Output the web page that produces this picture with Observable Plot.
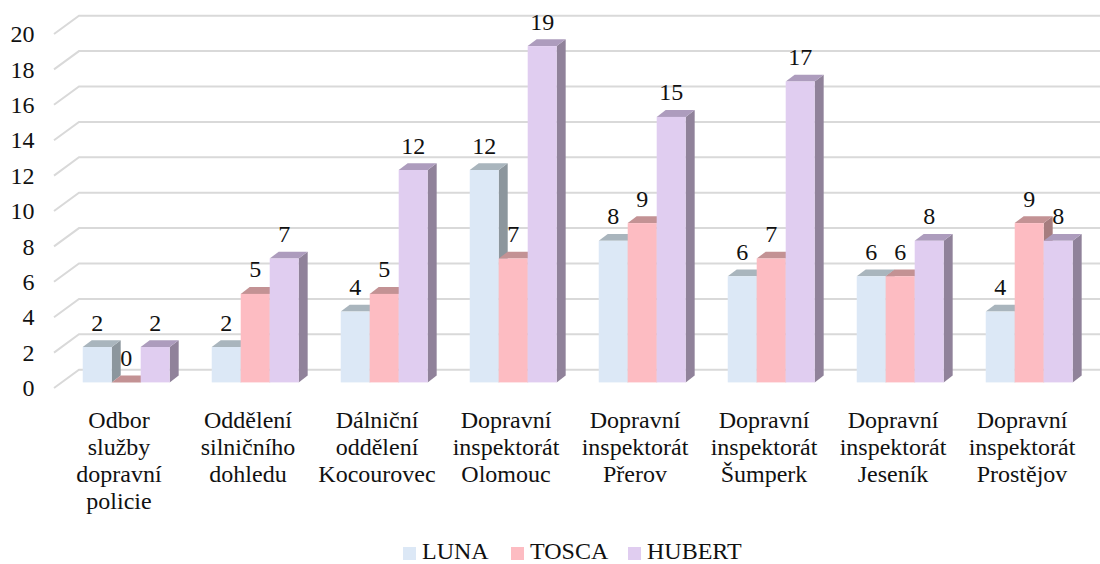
<!DOCTYPE html>
<html>
<head>
<meta charset="utf-8">
<script src="https://cdn.jsdelivr.net/npm/d3@7"></script>
<script src="https://cdn.jsdelivr.net/npm/@observablehq/plot@0.6"></script>
<style>
  html, body { margin: 0; padding: 0; background: #fff; }
  .a { font-family: 'Liberation Serif'; }
  #legend { position: relative; height: 34px; font-size: 24px; color: #111; }
  .item { position: absolute; top: 9px; white-space: nowrap; line-height: 24px; }
  .sw { position: absolute; top: 8px; width: 12.5px; height: 12.5px; }
  .lbl { position: absolute; left: 19px; top: 0; }
</style>
</head>
<body class="a">
<div id="chart" class="a"></div>
<div id="legend" class="a"></div>
<script>
const categories = [
  "Odbor\nslužby\ndopravní\npolicie",
  "Oddělení\nsilničního\ndohledu",
  "Dálniční\noddělení\nKocourovec",
  "Dopravní\ninspektorát\nOlomouc",
  "Dopravní\ninspektorát\nPřerov",
  "Dopravní\ninspektorát\nŠumperk",
  "Dopravní\ninspektorát\nJeseník",
  "Dopravní\ninspektorát\nProstějov"
];
const series = ["LUNA", "TOSCA", "HUBERT"];
const luna   = [2, 2, 4, 12, 8, 6, 6, 4];
const tosca  = [0, 5, 5, 7, 9, 7, 6, 9];
const hubert = [2, 7, 12, 19, 15, 17, 8, 8];
const yTicks = [0, 2, 4, 6, 8, 10, 12, 14, 16, 18, 20];

const frontColors = ["#dce8f6", "#fdbcc2", "#e0cdf0"];
const topColors   = ["#a9b5bd", "#c39294", "#ad9cbd"];
const sideColors  = ["#8c969d", "#a67d7f", "#90829a"];

const FONT = "'Liberation Serif'";
const FS = 24;

const valuesBySeries = [luna, tosca, hubert];
const rows = [];
categories.forEach((c, i) => series.forEach((s, k) => rows.push({category: c, series: s, k, value: valuesBySeries[k][i]})));

// oblique 3D geometry (pixels)
const WALL = [25, -18.3];
const BAR_OFF = [7.7, -5.6];
const BAR_D = [9, -6.8];
const GAP = 0.163;

function bandInfo(scales, dims) {
  return scales.x.bandwidth ? scales.x.bandwidth()
    : (dims.width - dims.marginLeft - dims.marginRight) / categories.length;
}

const gridMark = Plot.ruleY(yTicks, {
  render: (index, scales, values, dims) => {
    const g = d3.create("svg:g");
    const x0 = dims.marginLeft;
    for (const i of index) {
      const y = scales.y(yTicks[i]);
      g.append("path")
        .attr("d", `M${x0},${y}L${x0 + WALL[0]},${y + WALL[1]}L${dims.width + 40},${y + WALL[1]}`)
        .attr("fill", "none").attr("stroke", "#d9d9d9").attr("stroke-width", 2);
    }
    return g.node();
  }
});

const barMark = Plot.barY(rows, {
  x: "category", y: "value",
  render: (index, scales, values, dims) => {
    const g = d3.create("svg:g");
    const bw = bandInfo(scales, dims);
    const sw = bw * (1 - 2 * GAP) / 3;
    const yb = scales.y(0) + BAR_OFF[1];
    const [dx, dy] = BAR_D;
    for (const i of index) {
      const r = rows[i];
      const xl = scales.x(r.category) + bw * GAP + r.k * sw + BAR_OFF[0];
      const xr = xl + sw;
      const yt = scales.y(r.value) + BAR_OFF[1];
      g.append("path").attr("d", `M${xr},${yt}L${xr + dx},${yt + dy}L${xr + dx},${yb + dy}L${xr},${yb}Z`).attr("fill", sideColors[r.k]);
      g.append("path").attr("d", `M${xl},${yt}L${xl + dx},${yt + dy}L${xr + dx},${yt + dy}L${xr},${yt}Z`).attr("fill", topColors[r.k]);
      g.append("rect").attr("x", xl).attr("y", yt).attr("width", sw).attr("height", Math.max(0, yb - yt)).attr("fill", frontColors[r.k]);
    }
    for (const i of index) {
      const r = rows[i];
      const xl = scales.x(r.category) + bw * GAP + r.k * sw + BAR_OFF[0];
      const yt = scales.y(r.value) + BAR_OFF[1];
      g.append("text").attr("x", xl + sw / 2).attr("y", yt - 16.5)
        .attr("text-anchor", "middle").attr("fill", "#111")
        .attr("class", "a").attr("font-size", FS)
        .text(String(r.value));
    }
    return g.node();
  }
});

const chart = Plot.plot({
  width: 1100,
  height: 530,
  marginLeft: 54,
  marginRight: 14,
  marginTop: 34,
  marginBottom: 142,
  className: "a",
  style: {fontFamily: FONT, fontSize: FS + "px", color: "#111", background: "#fff", overflow: "visible"},
  x: {domain: categories, padding: 0, axis: null},
  y: {domain: [0, 20], axis: null},
  marks: [
    gridMark,
    Plot.axisY(yTicks, {tickSize: 0, tickPadding: 20, tickFormat: d => String(d), label: null, fontSize: FS, fill: "#111", fontFamily: FONT}),
    Plot.axisX({tickSize: 0, tickPadding: 20.7, lineHeight: 1.12, label: null, fontSize: FS, fill: "#111", fontFamily: FONT}),
    barMark
  ]
});
document.getElementById("chart").appendChild(chart);

const legendPos = [403, 511, 628];
const legend = document.getElementById("legend");
series.forEach((s, k) => {
  const item = document.createElement("div");
  item.className = "item a";
  item.style.left = legendPos[k] + "px";
  const sq = document.createElement("span");
  sq.className = "sw";
  sq.style.left = "0px";
  sq.style.background = frontColors[k];
  const t = document.createElement("span");
  t.className = "lbl a";
  t.textContent = s;
  item.appendChild(sq);
  item.appendChild(t);
  legend.appendChild(item);
});
</script>
</body>
</html>
